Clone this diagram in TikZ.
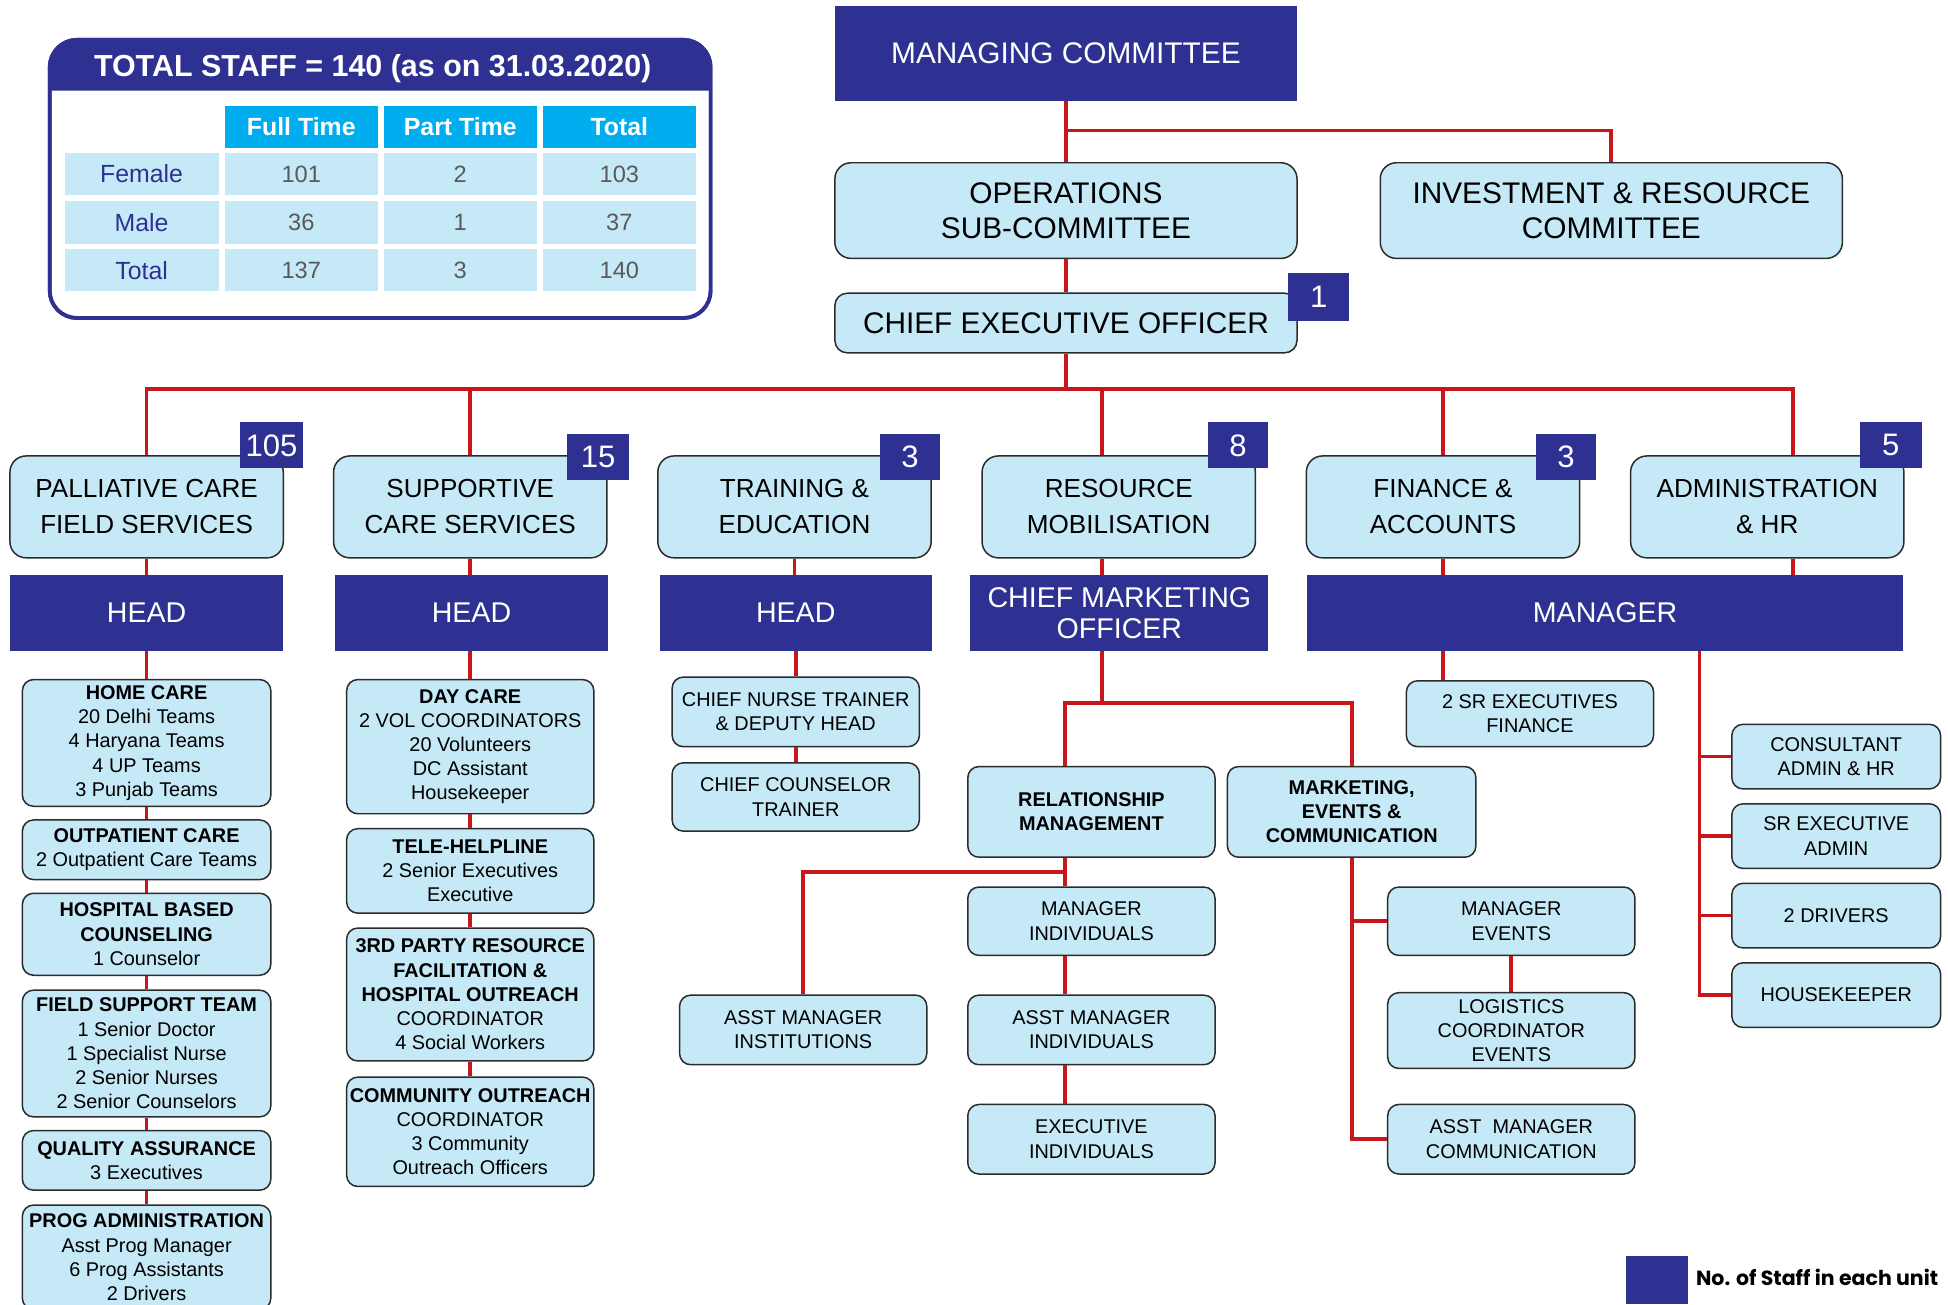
\documentclass[tikz,border=0pt]{standalone}
\usepackage{fontspec}
\setmainfont{Liberation Sans}
\newfontfamily\poppfont{Poppins}
\usetikzlibrary{calc}
\definecolor{dblue}{HTML}{2E3192}
\definecolor{lblue}{HTML}{C6E9F8}
\definecolor{cyanh}{HTML}{00AEEF}
\definecolor{lred}{HTML}{C8161D}
\definecolor{bgray}{HTML}{2B2B2B}
\definecolor{vgray}{HTML}{58595B}
\tikzset{
  lbox/.style={draw=bgray, fill=lblue, line width=1.2pt, rounded corners=13, inner sep=0pt, align=center, font=\fontsize{21}{29}\selectfont},
  obox/.style={lbox, font=\fontsize{24}{28}\selectfont},
  sbox/.style={draw=bgray, fill=lblue, line width=1.2pt, rounded corners=9, inner sep=0pt, align=center, font=\fontsize{16}{19.5}\selectfont},
  dbox/.style={fill=dblue, text=white, inner sep=0pt, align=center, font=\fontsize{23}{25}\selectfont},
  badge/.style={fill=dblue, text=white, inner sep=0pt, font=\fontsize{25}{25}\selectfont, minimum width=50, minimum height=37},
  conn/.style={draw=lred, line width=3pt},
  hcell/.style={fill=cyanh, text=white, inner sep=0pt, font=\fontsize{20}{20}\selectfont\bfseries, minimum width=123, minimum height=34},
  lcell/.style={fill=lblue, text=dblue, inner sep=0pt, font=\fontsize{20}{20}\selectfont, minimum width=124, minimum height=34},
  vcell/.style={fill=lblue, text=vgray, inner sep=0pt, font=\fontsize{19}{19}\selectfont, minimum width=123, minimum height=34},
}
\begin{document}
\begin{tikzpicture}[x=1pt,y=-1pt]
\useasboundingbox (0,0) rectangle (1568,1050);
\fill[white] (0,0) rectangle (1568,1050);

% ---- staff table ----
\draw[dblue, line width=3pt, fill=white, rounded corners=22] (40,32) rectangle (572,256);
\fill[dblue] (40,73) [rounded corners=22] -- (40,32) -- (572,32) [sharp corners] -- (572,73) -- cycle;
\draw[dblue, line width=3pt, rounded corners=22] (40,32) rectangle (572,256);
\node[text=white, font=\fontsize{24.5}{24.5}\selectfont\bfseries] (tbltitle) at (300,55) {TOTAL STAFF = 140 (as on 31.03.2020)};
\node[hcell] (hft) at (242.5,102) {Full Time};
\node[hcell] (hpt) at (370.5,102) {Part Time};
\node[hcell] (htt) at (498.5,102) {Total};
\node[lcell] (lfe) at (114,140) {Female};
\node[lcell] (lma) at (114,179) {Male};
\node[lcell] (lto) at (114,217.5) {Total};
\node[vcell] (v11) at (242.5,140) {\raisebox{-3pt}{101}};
\node[vcell] (v12) at (370.5,140) {\raisebox{-3pt}{2}};
\node[vcell] (v13) at (498.5,140) {\raisebox{-3pt}{103}};
\node[vcell] (v21) at (242.5,179) {36};
\node[vcell] (v22) at (370.5,179) {1};
\node[vcell] (v23) at (498.5,179) {37};
\node[vcell] (v31) at (242.5,217.5) {137};
\node[vcell] (v32) at (370.5,217.5) {3};
\node[vcell] (v33) at (498.5,217.5) {140};

% ---- top ----
\node[dbox, font=\fontsize{24}{28}\selectfont, minimum width=372, minimum height=76] (mc) at (858,43) {MANAGING COMMITTEE};
\node[obox, minimum width=372, minimum height=77] (ops) at (858,169.5) {OPERATIONS\\SUB-COMMITTEE};
\node[obox, minimum width=372, minimum height=77] (inv) at (1297,169.5) {INVESTMENT \& RESOURCE\\COMMITTEE};
\node[obox, rounded corners=10, minimum width=372, minimum height=48] (ceo) at (858,260) {CHIEF EXECUTIVE OFFICER};
\node[badge, minimum width=49, minimum height=38] (b1) at (1061.5,239) {1};

% ---- departments ----
\node[lbox, minimum width=220, minimum height=82] (pal) at (118,408) {PALLIATIVE CARE\\FIELD SERVICES};
\node[lbox, minimum width=220, minimum height=82] (sup) at (378.5,408) {SUPPORTIVE\\CARE SERVICES};
\node[lbox, minimum width=220, minimum height=82] (tra) at (639.5,408) {TRAINING \&\\EDUCATION};
\node[lbox, minimum width=220, minimum height=82] (res) at (900.5,408) {RESOURCE\\MOBILISATION};
\node[lbox, minimum width=220, minimum height=82] (fin) at (1161.5,408) {FINANCE \&\\ACCOUNTS};
\node[lbox, minimum width=220, minimum height=82] (adm) at (1422.5,408) {ADMINISTRATION\\\& HR};
\node[badge] (b105) at (218.5,358.5) {105};
\node[badge] (b15) at (481.5,367.5) {15};
\node[badge, minimum width=49] (b3a) at (732.5,367.5) {3};
\node[badge, minimum width=49] (b8) at (996.5,358.5) {8};
\node[badge, minimum width=49] (b3b) at (1260.5,367.5) {3};
\node[badge] (b5) at (1522,358.5) {5};

% ---- heads ----
\node[dbox, minimum width=220, minimum height=61] (h1) at (118,493.5) {HEAD};
\node[dbox, minimum width=219, minimum height=61] (h2) at (379.5,493.5) {HEAD};
\node[dbox, minimum width=219, minimum height=61] (h3) at (640.5,493.5) {HEAD};
\node[dbox, minimum width=240, minimum height=61] (cmo) at (901,493.5) {CHIEF MARKETING\\OFFICER};
\node[dbox, minimum width=480, minimum height=61] (mgr) at (1292,493.5) {MANAGER};

% ---- palliative column ----
\node[sbox, minimum width=200, minimum height=102] (hc) at (118,598) {\textbf{HOME CARE}\\20 Delhi Teams\\4 Haryana Teams\\4 UP Teams\\3 Punjab Teams};
\node[sbox, minimum width=200, minimum height=48] (op) at (118,684) {\textbf{OUTPATIENT CARE}\\2 Outpatient Care Teams};
\node[sbox, minimum width=200, minimum height=66] (hb) at (118,752) {\textbf{HOSPITAL BASED}\\\textbf{COUNSELING}\\1 Counselor};
\node[sbox, minimum width=200, minimum height=102] (fs) at (118,848) {\textbf{FIELD SUPPORT TEAM}\\1 Senior Doctor\\1 Specialist Nurse\\2 Senior Nurses\\2 Senior Counselors};
\node[sbox, minimum width=200, minimum height=48] (qa) at (118,934) {\textbf{QUALITY ASSURANCE}\\3 Executives};
\node[sbox, minimum width=200, minimum height=84] (pa) at (118,1012) {\textbf{PROG ADMINISTRATION}\\Asst Prog Manager\\6 Prog Assistants\\2 Drivers};

% ---- supportive column ----
\node[sbox, minimum width=199, minimum height=108] (dc) at (378.5,601) {\textbf{DAY CARE}\\2 VOL COORDINATORS\\20 Volunteers\\DC Assistant\\Housekeeper};
\node[sbox, minimum width=199, minimum height=68] (th) at (378.5,701) {\textbf{TELE-HELPLINE}\\2 Senior Executives\\Executive};
\node[sbox, minimum width=199, minimum height=107] (tp) at (378.5,800.5) {\textbf{3RD PARTY RESOURCE}\\\textbf{FACILITATION \&}\\\textbf{HOSPITAL OUTREACH}\\COORDINATOR\\4 Social Workers};
\node[sbox, minimum width=199, minimum height=88] (co) at (378.5,911) {\textbf{COMMUNITY OUTREACH}\\COORDINATOR\\3 Community\\Outreach Officers};

% ---- training column ----
\node[sbox, minimum width=199, minimum height=56] (cnt) at (640.5,573) {CHIEF NURSE TRAINER\\\& DEPUTY HEAD};
\node[sbox, minimum width=199, minimum height=55] (cct) at (640.5,641.5) {CHIEF COUNSELOR\\TRAINER};

% ---- resource mobilisation ----
\node[sbox, minimum width=199, minimum height=73] (rm) at (878.5,653.5) {\textbf{RELATIONSHIP}\\\textbf{MANAGEMENT}};
\node[sbox, minimum width=200, minimum height=73] (mk) at (1088,653.5) {\textbf{MARKETING,}\\\textbf{EVENTS \&}\\\textbf{COMMUNICATION}};
\node[sbox, minimum width=199, minimum height=55] (mi) at (878.5,741.5) {MANAGER\\INDIVIDUALS};
\node[sbox, minimum width=199, minimum height=56] (ami) at (646.5,829) {ASST MANAGER\\INSTITUTIONS};
\node[sbox, minimum width=199, minimum height=56] (amd) at (878.5,829) {ASST MANAGER\\INDIVIDUALS};
\node[sbox, minimum width=199, minimum height=56] (ei) at (878.5,917) {EXECUTIVE\\INDIVIDUALS};
\node[sbox, minimum width=199, minimum height=55] (me) at (1216.5,741.5) {MANAGER\\EVENTS};
\node[sbox, minimum width=199, minimum height=61] (lce) at (1216.5,829.5) {LOGISTICS\\COORDINATOR\\EVENTS};
\node[sbox, minimum width=199, minimum height=56] (amc) at (1216.5,917) {ASST\ \ MANAGER\\COMMUNICATION};

% ---- finance / admin ----
\node[sbox, minimum width=199, minimum height=53] (sef) at (1231.5,574.5) {2 SR EXECUTIVES\\FINANCE};
\node[sbox, minimum width=168, minimum height=52] (ca) at (1478,609) {CONSULTANT\\ADMIN \& HR};
\node[sbox, minimum width=168, minimum height=52] (sea) at (1478,673) {SR EXECUTIVE\\ADMIN};
\node[sbox, minimum width=168, minimum height=52] (dr) at (1478,737) {2 DRIVERS};
\node[sbox, minimum width=168, minimum height=52] (hk) at (1478,801) {HOUSEKEEPER};

% ---- legend ----
\node[fill=dblue, inner sep=0pt, minimum width=50, minimum height=39] (leg) at (1334,1030.5) {};
\node[anchor=west, inner sep=0pt, font=\poppfont\bfseries\fontsize{16.5}{16.5}\selectfont] (legtxt) at (1365,1028) {No. of Staff in each unit};

% ---- connectors ----
\coordinate (j1) at (858,105);
\coordinate (busL) at (118,313);
\coordinate (busR) at (1443,313);
\coordinate (rjL) at (857,566);
\coordinate (rjR) at (1088,566);
\coordinate (rb) at (857,702);
\coordinate (avTop) at (1368,524);

\draw[conn] (mc.south) -- (ops.north);
\draw[conn] (inv.north) |- (j1);
\draw[conn] (ops.south) -- (ceo.north);
\draw[conn] (ceo.south) -- (ceo.south |- busL);
\draw[conn] (pal.north) -- (busL) -- (busR) -- ([xshift=20.5]adm.north);
\draw[conn] (sup.north) -- (sup.north |- busL);
\draw[conn] ([xshift=-13.5]res.north) -- ([xshift=-13.5]res.north |- busL);
\draw[conn] (fin.north) -- (fin.north |- busL);

\draw[conn] (pal.south) -- (h1.north);
\draw[conn] (sup.south) -- (sup.south |- h2.north);
\draw[conn] (tra.south) -- (tra.south |- h3.north);
\draw[conn] ([xshift=-13.5]res.south) -- ([xshift=-13.5]res.south |- cmo.north);
\draw[conn] (fin.south) -- (fin.south |- mgr.north);
\draw[conn] ([xshift=20.5]adm.south) -- ([xshift=20.5]adm.south |- mgr.north);

\draw[conn] (h1.south) -- (hc.north);
\draw[conn] (hc.south) -- (op.north);
\draw[conn] (op.south) -- (hb.north);
\draw[conn] (hb.south) -- (fs.north);
\draw[conn] (fs.south) -- (qa.north);
\draw[conn] (qa.south) -- (pa.north);

\draw[conn] (dc.north |- h2.south) -- (dc.north);
\draw[conn] (dc.south) -- (th.north);
\draw[conn] (th.south) -- (tp.north);
\draw[conn] (tp.south) -- (co.north);

\draw[conn] (h3.south) -- (cnt.north);
\draw[conn] (cnt.south) -- (cct.north);

\draw[conn] ([xshift=-14]cmo.south) -- ([xshift=-14]cmo.south |- rjL);
\draw[conn] ([xshift=-21.5]rm.north) -- (rjL) -- (rjR) -- (mk.north);
\draw[conn] ([xshift=-21.5]rm.south) -- ([xshift=-21.5]mi.north);
\draw[conn] (ami.north) |- (rb);
\draw[conn] ([xshift=-21.5]mi.south) -- ([xshift=-21.5]amd.north);
\draw[conn] ([xshift=-21.5]amd.south) -- ([xshift=-21.5]ei.north);

\draw[conn] (mk.south) |- (amc.west);
\draw[conn] (me.west) -- (me.west -| mk.south);
\draw[conn] (me.south) -- (lce.north);

\draw[conn] (fin.south |- mgr.south) -- (fin.south |- sef.north);
\draw[conn] (avTop) |- (hk.west);
\draw[conn] (ca.west) -- (ca.west -| avTop);
\draw[conn] (sea.west) -- (sea.west -| avTop);
\draw[conn] (dr.west) -- (dr.west -| avTop);
\end{tikzpicture}
\end{document}
